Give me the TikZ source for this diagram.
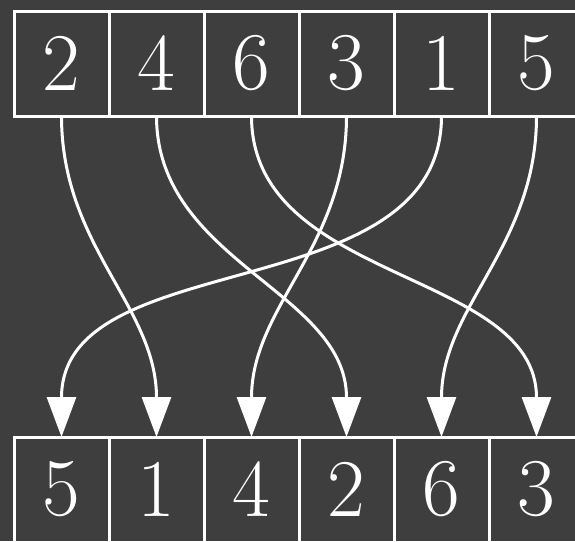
\documentclass[tikz,border=0pt]{standalone}
\usepackage{xcolor}
\usepackage{tikz}
\usetikzlibrary{arrows.meta,positioning}
\definecolor{board}{RGB}{62,62,62}

\begin{document}
\begin{tikzpicture}[
    x=1pt, y=-1pt,
    node distance=321pt and 0pt,
    cell/.style={draw=white, line width=3pt, outer sep=0pt, inner sep=0pt, minimum width=95pt, minimum height=105pt, text=white, font=\fontsize{82}{82}\selectfont},
    wire/.style={draw=white, line width=3pt, out=-90, in=90, -{Triangle[length=40pt,width=29pt]}}
]
\fill[board] (0,0) rectangle (575,541);
\useasboundingbox (0,0) rectangle (575,541);

\node[cell] (t1) at (61.5,63.5) {2};
\node[cell, right=of t1] (t2) {4};
\node[cell, right=of t2] (t3) {6};
\node[cell, right=of t3] (t4) {3};
\node[cell, right=of t4] (t5) {1};
\node[cell, right=of t5] (t6) {5};

\node[cell, below=of t1] (b1) {5};
\node[cell, right=of b1] (b2) {1};
\node[cell, right=of b2] (b3) {4};
\node[cell, right=of b3] (b4) {2};
\node[cell, right=of b4] (b5) {6};
\node[cell, right=of b5] (b6) {3};

\draw[wire] (t1.south) to (b2.north);
\draw[wire] (t2.south) to (b4.north);
\draw[wire] (t3.south) to (b6.north);
\draw[wire] (t4.south) to (b3.north);
\draw[wire] (t5.south) to (b1.north);
\draw[wire] (t6.south) to (b5.north);
\end{tikzpicture}
\end{document}
